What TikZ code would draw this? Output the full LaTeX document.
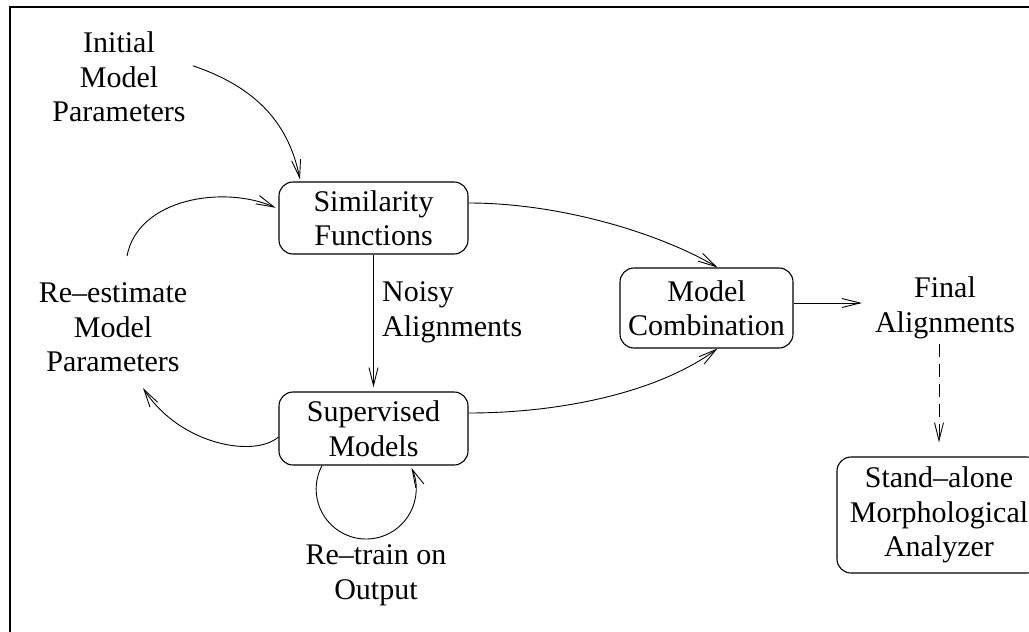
\documentclass[tikz,border=0pt]{standalone}
\usepackage{fontspec}
\setmainfont{Liberation Serif}
\usetikzlibrary{arrows.meta}
\begin{document}
\begin{tikzpicture}[x=1pt,y=1pt,
  every node/.style={inner sep=0pt, font=\fontsize{30pt}{34.5pt}\selectfont, align=center},
  block/.style={draw, line width=1.1pt, rounded corners=14pt},
  flow/.style={line width=0.9pt, -{Straight Barb[length=18pt,width=9pt]}},
  dashflow/.style={flow, dash pattern=on 13pt off 7pt}
]
\useasboundingbox (0,0) rectangle (1029,-632);
% outer frame (top and left edges)
\draw[line width=1.5pt] (10,-632) -- (10,-7) -- (1029,-7);

% process boxes
\node[block, minimum width=189pt, minimum height=72pt] (sim) at (373.5,-218) {Similarity\\Functions};
\node[block, minimum width=189pt, minimum height=73pt] (sup) at (373.5,-428.5) {Supervised\\Models};
\node[block, minimum width=173pt, minimum height=80pt] (comb) at (706.5,-308) {Model\\Combination};
\node[block, minimum width=204pt, minimum height=116pt] (stand) at (939,-515) {Stand–alone\\Morphological\\Analyzer};

% free labels
\node[anchor=north] (init) at (119,-31.5) {Initial\\Model\\Parameters};
\node[anchor=north] (reest) at (113,-282.5) {Re–estimate\\Model\\Parameters};
\node[anchor=north west, align=left] (noisy) at (382,-281.5) {Noisy\\Alignments};
\node[anchor=north] (final) at (945,-276.5) {Final\\Alignments};
\node[anchor=north] (retrain) at (376,-544.5) {Re–train on\\Output};

% connectors
\draw[flow] ([shift={(7pt,11pt)}]init.east) .. controls +(59,-20) and +(-12,60) .. ([shift={(-73.5pt,2pt)}]sim.north);
\draw[flow, shorten >=3pt] ([shift={(14pt,26.5pt)}]reest.north) .. controls +(11,58) and +(-54,24) .. ([yshift=9pt]sim.west);
\draw[flow] ([yshift=15pt]sim.east) .. controls +(92,0) and +(-57.5,34) .. ([xshift=11pt]comb.north);
\draw[flow] ([yshift=15.5pt]sup.east) .. controls +(92,0) and +(-59.5,-44) .. ([xshift=11pt]comb.south);
\draw[flow, shorten >=4pt] (sim.south) -- (sup.north);
\draw[flow] ([yshift=-8.5pt]sup.west) .. controls +(-24,-21) and +(37,-57) .. ([shift={(30pt,-16pt)}]reest.south);
\draw[flow] ([xshift=-51.5pt]sup.south) arc[start angle=152, end angle=385, radius=50];
\coordinate (ce) at ([yshift=5pt]comb.east);
\draw[flow, shorten >=13pt] (ce) -- (ce -| final.west);
\draw[dashflow, shorten <=5pt, shorten >=14pt] (final.south -| stand.north) -- (stand.north);
\end{tikzpicture}
\end{document}
